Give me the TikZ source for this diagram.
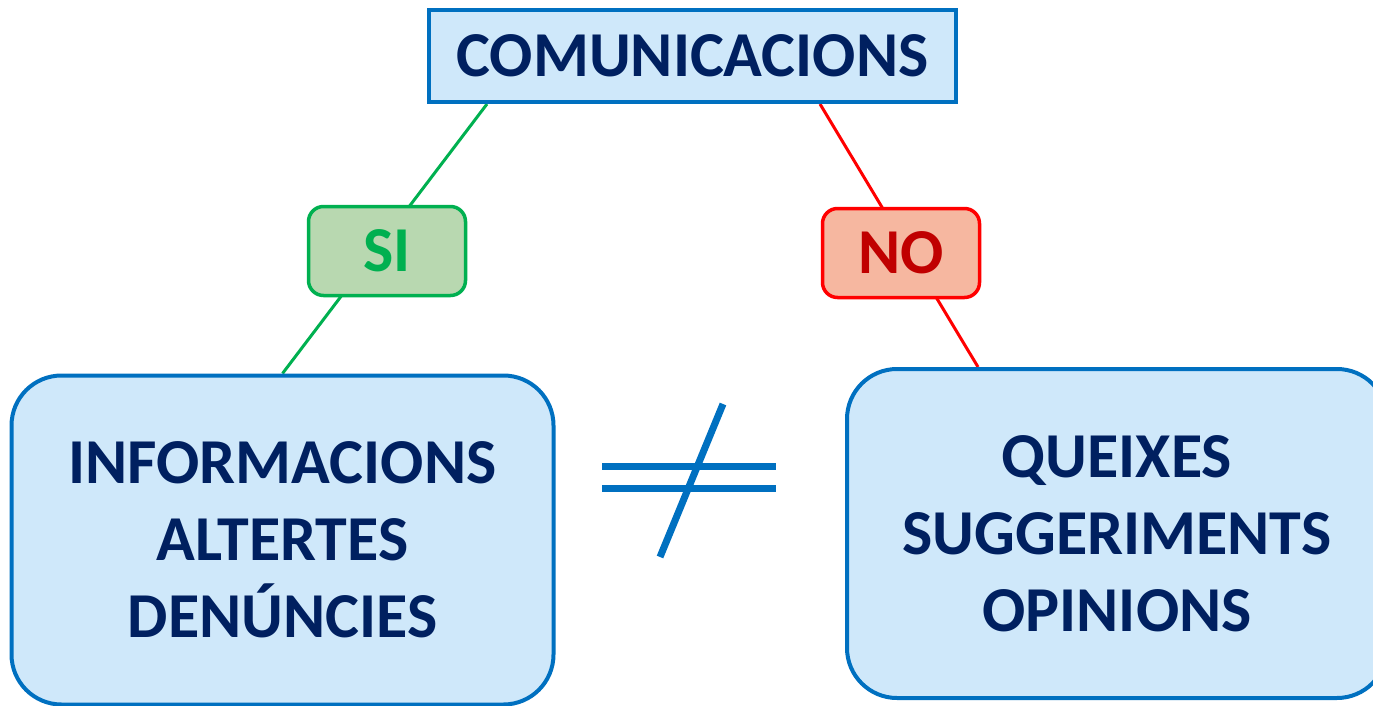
\documentclass[tikz,border=0pt]{standalone}
\usepackage{fontspec}
\setmainfont{Carlito}
\usetikzlibrary{calc,backgrounds}
\definecolor{boxfill}{HTML}{CFE8FA}
\definecolor{boxline}{HTML}{0070C0}
\definecolor{navy}{HTML}{002060}
\definecolor{sifill}{HTML}{B8D8B0}
\definecolor{siline}{HTML}{00B050}
\definecolor{nofill}{HTML}{F6B7A0}
\definecolor{noline}{HTML}{FF0000}
\definecolor{notext}{HTML}{C00000}
\tikzset{
  bigfont/.style={font=\bfseries\fontsize{64}{77}\selectfont},
  titlebox/.style={draw=boxline, fill=boxfill, line width=4pt, text=navy, bigfont,
     minimum width=527pt, minimum height=92pt, inner sep=0pt},
  bigbox/.style={draw=boxline, fill=boxfill, line width=4pt, rounded corners=50pt,
     text=navy, bigfont, align=center, inner sep=0pt, minimum height=329pt},
  sibox/.style={draw=siline, fill=sifill, line width=3.5pt, rounded corners=15pt,
     text=siline, bigfont, minimum width=157pt, minimum height=89pt, inner sep=0pt},
  nobox/.style={draw=noline, fill=nofill, line width=3.5pt, rounded corners=15pt,
     text=notext, bigfont, minimum width=157pt, minimum height=89pt, inner sep=0pt},
  siconn/.style={draw=siline, line width=3pt},
  noconn/.style={draw=noline, line width=3pt},
  neqline/.style={draw=boxline, line width=7pt}
}
\begin{document}
\begin{tikzpicture}[x=1pt,y=-1pt]
\useasboundingbox (0,0) rectangle (1373,706);
\node[titlebox] (top) at (692.5,56) {COMUNICACIONS};
\node[bigbox, minimum width=542pt] (left) at (282.5,540) {INFORMACIONS\\ALTERTES\\DENÚNCIES};
\node[bigbox, minimum width=540pt] (right) at (1117,533.5) {QUEIXES\\SUGGERIMENTS\\OPINIONS};
\begin{scope}[on background layer]
\draw[siconn] ($(top.south west)+(60,0)$) -- ($(left.north west)+(273,0)$);
\draw[noconn] ($(top.south west)+(393,0)$) -- ($(right.north west)+(133,0)$);
\end{scope}
\node[sibox] (si) at (387,251) {SI};
\node[nobox] (no) at (901,253) {NO};
\draw[neqline] (602,466) -- (776,466);
\draw[neqline] (602,488) -- (776,488);
\draw[neqline] (723,404) -- (660,557);
\end{tikzpicture}
\end{document}
